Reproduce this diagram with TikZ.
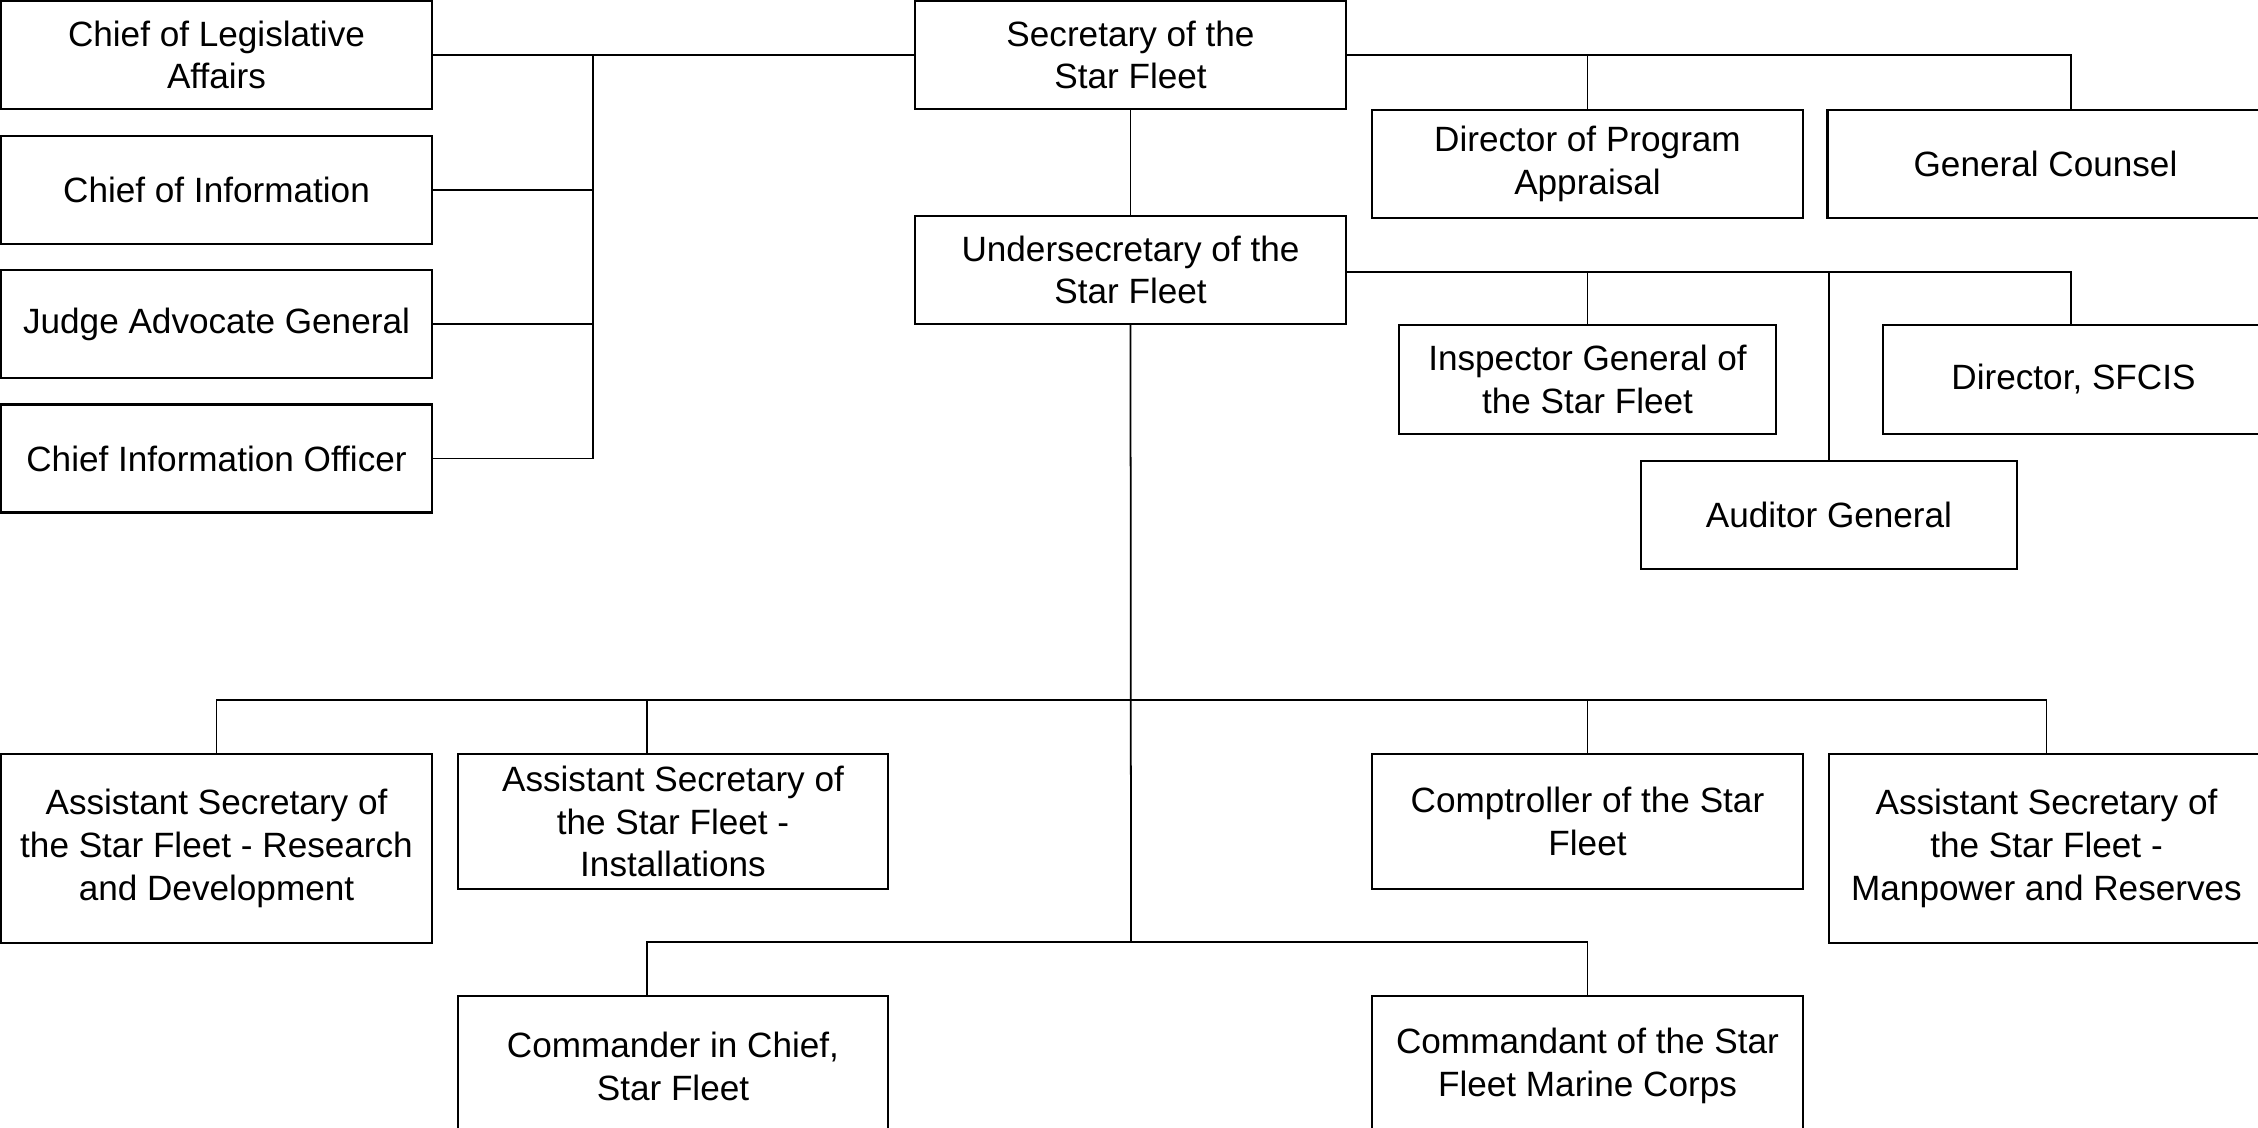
\documentclass[tikz,border=0pt]{standalone}
\usepackage{fontspec}
\setmainfont{Liberation Sans}
\usepackage{tikz}

\tikzset{
  office/.style={draw, line width=0.7pt, align=center, inner sep=0pt,
    font=\fontsize{10}{12.2}\selectfont},
  wide/.style={office, minimum width=4.31cm, minimum height=1.08cm},
  link/.style={line width=0.5pt}
}

\begin{document}
\begin{tikzpicture}[x=0.1mm,y=-0.1mm]
  \useasboundingbox (0,0) rectangle (2258,1128);
  \clip (0,0) rectangle (2258,1128);
  % left column
  \node[wide] (leg) at (216.5,55) {Chief of Legislative\\Affairs};
  \node[wide] (info) at (216.5,190) {Chief of Information};
  \node[wide] (jag) at (216.5,324) {Judge Advocate General};
  \node[wide] (cio) at (216.5,458.5) {Chief Information Officer};
  % centre
  \node[wide] (sec) at (1130.5,55) {Secretary of the\\Star Fleet};
  \node[wide] (under) at (1130.5,270) {Undersecretary of the\\Star Fleet};
  % right, top
  \node[wide] (prog) at (1587.5,164) {Director of Program\\Appraisal};
  \node[wide, minimum width=4.36cm] (counsel) at (2045.5,164) {General Counsel};
  \node[office, minimum width=3.77cm, minimum height=1.09cm] (ig) at (1587.5,379.5) {Inspector General of\\the Star Fleet};
  \node[office, minimum width=3.81cm, minimum height=1.09cm] (sfcis) at (2073.5,379.5) {Director, SFCIS};
  \node[office, minimum width=3.76cm, minimum height=1.08cm] (aud) at (1829,515) {Auditor General};
  % bottom rows
  \node[wide, minimum height=1.89cm] (asrd) at (216.5,848.5) {Assistant Secretary of\\the Star Fleet - Research\\and Development};
  \node[wide, minimum width=4.30cm, minimum height=1.35cm] (asi) at (673,821.5) {Assistant Secretary of\\the Star Fleet -\\Installations};
  \node[wide, minimum height=1.35cm] (comp) at (1587.5,821.5) {Comptroller of the Star\\Fleet};
  \node[wide, minimum width=4.35cm, minimum height=1.89cm] (asmr) at (2046.5,848.5) {Assistant Secretary of\\the Star Fleet -\\Manpower and Reserves};
  \node[wide, minimum width=4.30cm, minimum height=1.40cm] (cic) at (673,1066) {Commander in Chief,\\Star Fleet};
  \node[wide, minimum height=1.40cm] (comm) at (1587.5,1066) {Commandant of the Star\\Fleet Marine Corps};

  % junctions
  \coordinate (lb) at (593,55);
  \coordinate (rt) at (2071,55);
  \coordinate (ur) at (2071,272);
  \coordinate (mb) at (1131,700);
  \coordinate (ai) at (647,700);
  \coordinate (lo) at (1131,942);

  % staff on the left
  \draw[link] (leg.east) -- (sec.west);
  \draw[link] (lb) -- (lb |- cio.east) -- (cio.east);
  \draw[link] (info.east) -- (info.east -| lb);
  \draw[link] (jag.east) -- (jag.east -| lb);
  % staff on the right
  \draw[link] (sec.east) -- (rt) -- (rt |- counsel.north);
  \draw[link] (prog.north) -- (prog.north |- rt);
  \draw[link] (under.east |- ur) -- (ur) -- (ur |- sfcis.north);
  \draw[link] (ig.north) -- (ig.north |- ur);
  \draw[link] (aud.north) -- (aud.north |- ur);
  % main line
  \draw[link] (sec.south) -- (under.north);
  \draw[link] (under.south) -- (lo);
  \draw[link] (asrd.north) -- (asrd.north |- mb) -- (asmr.north |- mb) -- (asmr.north);
  \draw[link] (ai) -- (ai |- asi.north);
  \draw[link] (comp.north) -- (comp.north |- mb);
  \draw[link] (ai |- cic.north) -- (ai |- lo) -- (comm.north |- lo) -- (comm.north);
\end{tikzpicture}
\end{document}
